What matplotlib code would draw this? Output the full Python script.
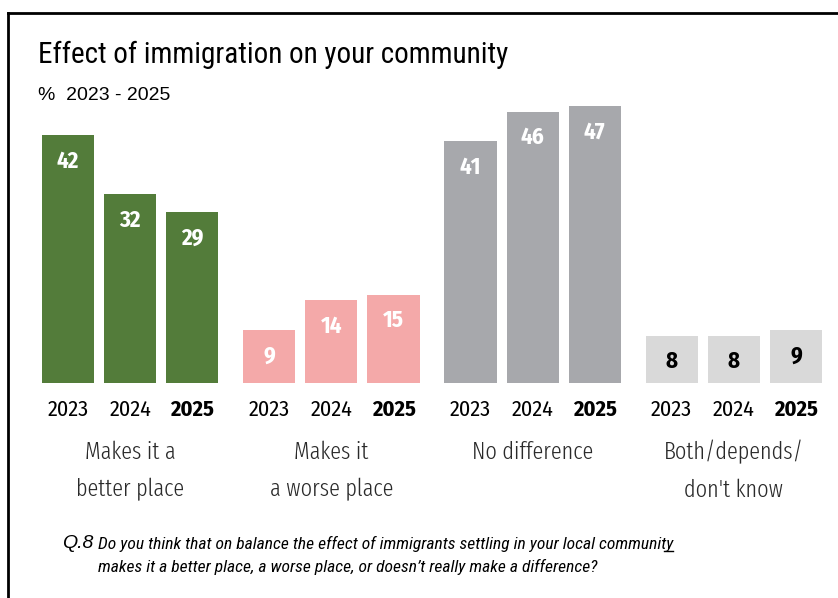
import matplotlib
matplotlib.use("Agg")
import matplotlib.pyplot as plt
from matplotlib.transforms import blended_transform_factory
from matplotlib.lines import Line2D
import numpy as np

categories = ["Makes it a\nbetter place", "Makes it\na worse place", "No difference", "Both/depends/\ndon't know"]
years = ["2023", "2024", "2025"]
values = [
    [42, 32, 29],
    [9, 14, 15],
    [41, 46, 47],
    [8, 8, 9],
]
bar_colors = ["#537c3a", "#f4a9a9", "#a7a8ac", "#d9d9d9"]
label_colors = ["white", "white", "white", "black"]

cond = "Fira Sans Condensed"
xcond = "Fira Sans Extra Condensed"
arial = "Liberation Sans"
narrow = "Roboto Condensed"

fig = plt.figure(figsize=(8.38, 5.98), dpi=100)

# frame lines along top and left edges
fig.add_artist(Line2D([8/838, 8/838], [0, 1 - 13/598], transform=fig.transFigure, color="black", lw=2))
fig.add_artist(Line2D([8/838, 1], [1 - 13/598, 1 - 13/598], transform=fig.transFigure, color="black", lw=2))

ax = fig.add_axes([42/838, (598-383)/598, 780/838, 295/598])
gap = 3.24
width = 0.84
trans = blended_transform_factory(ax.transData, fig.transFigure)
for gi, (cat, vals) in enumerate(zip(categories, values)):
    xs = gi * gap + np.arange(len(years))
    ax.bar(xs, vals, width=width, color=bar_colors[gi])
    for x, v in zip(xs, vals):
        ax.annotate(str(v), (x, v), xytext=(0, -26), textcoords="offset pixels",
                    ha="center", va="center", fontsize=16.5, fontweight="bold",
                    color=label_colors[gi], family=cond)
    for j, (x, yr) in enumerate(zip(xs, years)):
        ax.annotate(yr, (x, 0), xytext=(0, -27), textcoords="offset pixels",
                    ha="center", va="center", fontsize=16,
                    fontweight="bold" if j == 2 else "normal",
                    color="black", family=cond)
    ypos = 471 if "\n" in cat else 452
    ax.text(xs[1], 1 - ypos/598, cat, transform=trans, ha="center", va="center",
            fontsize=17.5, color="#2a2a2a", family=xcond, fontweight=300,
            linespacing=1.8)

ax.set_xlim(-width/2, 3*gap + 2 + width/2)
ax.set_ylim(0, 295/5.9)
ax.axis("off")

fig.text(38/838, 1 - 55/598, "Effect of immigration on your community", fontsize=21,
         family=narrow, va="center", ha="left")
fig.text(38/838, 1 - 96/598, "%  2023 - 2025", fontsize=14,
         family=arial, va="center", ha="left")
fig.text(62/838, 1 - 544/598, "Q.8", fontsize=14, style="italic",
         family=arial, va="center", ha="left")
line1 = fig.text(98/838, 1 - 544/598,
                 "Do you think that on balance the effect of immigrants settling in your local community",
                 fontsize=12.6, style="italic", family=narrow, va="center", ha="left")
fig.text(98/838, 1 - 567/598,
         "makes it a better place, a worse place, or doesn\u2019t really make a difference?",
         fontsize=12.6, style="italic", family=narrow, va="center", ha="left")

# short underline beneath the final letter of the first line
fig.canvas.draw()
bb = line1.get_window_extent()
fig.add_artist(Line2D([(bb.x1 - 9) / 838, bb.x1 / 838], [(bb.y0 + 1) / 598] * 2,
                      transform=fig.transFigure, color="black", lw=1))

fig.savefig("out.png", dpi=100)
